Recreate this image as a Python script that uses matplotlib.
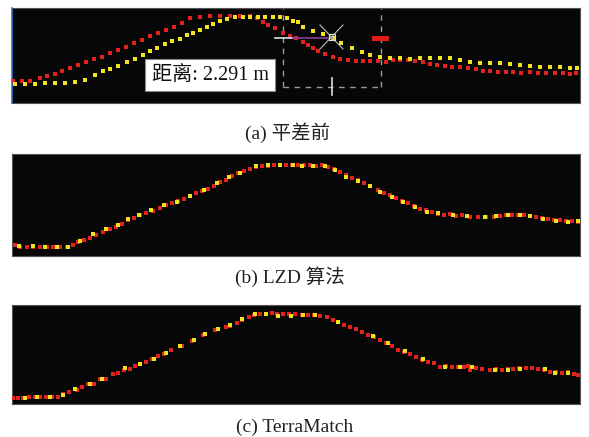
import matplotlib
matplotlib.use("Agg")
import matplotlib.pyplot as plt

# profile readings: distance along the section and height above panel floor
# (a) before adjustment
a_red_dist = [1, 10, 18, 28, 35, 43, 50, 58, 66, 74, 82, 90, 98, 106, 114, 122, 130, 138, 146, 154,
              162, 170, 178, 188, 198, 208, 218, 228, 238, 245, 251, 256, 263, 271, 278, 284, 291, 296, 301, 306,
              313, 321, 328, 336, 344, 351, 358, 366, 374, 381, 388, 396, 403, 411, 418, 425, 433, 440, 448, 456,
              464, 471, 478, 486, 494, 501, 509, 518, 526, 534, 543, 551, 558, 564]
a_red_elev = [22, 22, 22, 25, 27, 29, 32, 35, 38, 41, 44, 46, 50, 53, 56, 60, 63, 67, 70, 73,
              76, 80, 85, 86, 87, 87, 87, 87, 87, 85, 81, 78, 75, 70, 67, 65, 61, 58, 55, 52,
              49, 46, 44, 43, 42, 42, 42, 42, 41, 43, 43, 43, 42, 41, 39, 38, 37, 36, 36, 35,
              34, 32, 32, 31, 31, 31, 30, 31, 30, 30, 30, 30, 29, 30]
a_yel_dist = [3, 13, 23, 33, 43, 53, 63, 73, 83, 91, 98, 106, 115, 123, 131, 138, 145, 153, 160, 168,
              175, 181, 188, 195, 201, 208, 215, 223, 231, 238, 246, 253, 261, 268, 275, 281, 286, 291, 301, 311,
              321, 329, 340, 350, 358, 368, 378, 388, 398, 408, 418, 428, 438, 448, 458, 468, 478, 488, 498, 508,
              518, 528, 538, 548, 558, 565]
a_yel_elev = [19, 19, 19, 20, 20, 20, 21, 23, 28, 32, 34, 37, 41, 44, 48, 52, 55, 59, 62, 64,
              68, 70, 73, 76, 79, 82, 84, 86, 86, 86, 86, 86, 86, 86, 85, 82, 81, 76, 72, 69,
              65, 60, 55, 51, 48, 46, 45, 45, 44, 45, 45, 45, 45, 43, 41, 40, 40, 40, 39, 38,
              37, 36, 36, 36, 35, 35]

# (b) LZD
b_red_dist = [3, 8, 15, 21, 28, 35, 41, 48, 55, 61, 66, 72, 78, 84, 91, 98, 104, 110, 116, 122,
              128, 134, 141, 148, 154, 160, 166, 172, 178, 184, 190, 196, 202, 208, 214, 220, 226, 232, 238, 244,
              250, 256, 262, 268, 274, 280, 286, 292, 298, 304, 310, 316, 322, 328, 334, 340, 346, 352, 358, 366,
              372, 378, 384, 390, 396, 402, 408, 414, 420, 426, 432, 438, 444, 450, 458, 466, 474, 482, 488, 494,
              500, 506, 512, 518, 524, 530, 536, 542, 548, 554, 560, 566]
b_red_elev = [11, 9, 9, 9, 9, 9, 9, 9, 9, 11, 14, 16, 18, 21, 24, 27, 29, 32, 36, 38,
              41, 43, 45, 48, 51, 53, 55, 57, 60, 63, 65, 67, 70, 74, 76, 80, 83, 85, 87, 89,
              90, 90, 91, 91, 91, 91, 91, 91, 91, 90, 91, 89, 87, 84, 81, 78, 76, 73, 70, 66,
              63, 61, 58, 55, 53, 50, 47, 46, 44, 42, 41, 42, 40, 41, 39, 39, 39, 39, 40, 41,
              41, 41, 41, 40, 39, 38, 37, 36, 36, 35, 35, 34]
b_yel_dist = [7, 21, 33, 45, 56, 68, 81, 94, 106, 116, 127, 139, 152, 165, 178, 192, 205, 217, 228, 244,
              256, 268, 281, 290, 301, 313, 323, 334, 346, 358, 368, 380, 391, 403, 415, 426, 441, 455, 473, 484,
              496, 508, 518, 531, 544, 556, 566]
b_yel_elev = [10, 10, 9, 9, 9, 15, 22, 27, 31, 37, 41, 46, 51, 54, 60, 66, 73, 79, 83, 90,
              91, 91, 91, 90, 90, 90, 86, 79, 75, 70, 64, 59, 54, 49, 44, 43, 41, 40, 39, 40,
              41, 41, 40, 37, 35, 34, 35]

# (c) TerraMatch
c_red_dist = [1, 6, 11, 17, 23, 28, 34, 40, 46, 51, 57, 65, 70, 76, 82, 88, 94, 101, 106, 112,
              118, 123, 128, 134, 140, 146, 152, 159, 170, 180, 191, 203, 214, 218, 225, 230, 237, 242, 248, 254,
              260, 265, 271, 277, 283, 290, 296, 302, 308, 315, 321, 326, 332, 338, 344, 350, 356, 362, 368, 374,
              380, 386, 392, 398, 404, 410, 416, 422, 428, 434, 440, 446, 452, 456, 458, 464, 470, 478, 484, 490,
              496, 501, 507, 514, 520, 526, 532, 538, 544, 550, 556, 562, 566]
c_red_elev = [6, 6, 6, 7, 7, 7, 7, 7, 7, 10, 12, 14, 17, 20, 20, 25, 25, 30, 31, 34,
              35, 38, 40, 42, 45, 48, 50, 54, 58, 63, 69, 74, 77, 78, 81, 84, 87, 89, 90, 90,
              91, 90, 90, 90, 90, 89, 89, 89, 88, 87, 84, 82, 79, 77, 75, 72, 69, 67, 64, 61,
              58, 54, 52, 50, 47, 44, 42, 41, 37, 38, 37, 37, 37, 38, 34, 36, 35, 34, 35, 34,
              35, 35, 36, 36, 36, 35, 34, 32, 32, 31, 32, 30, 29]
c_yel_dist = [13, 25, 38, 51, 63, 78, 90, 113, 128, 142, 154, 168, 182, 193, 206, 218, 230, 243, 254, 266,
              279, 291, 303, 326, 361, 376, 393, 411, 433, 448, 460, 483, 496, 508, 533, 543, 556]
c_yel_elev = [6, 7, 7, 9, 15, 20, 25, 36, 40, 45, 51, 58, 64, 70, 75, 79, 85, 90, 90, 88,
              88, 89, 89, 82, 68, 61, 53, 45, 37, 37, 37, 34, 34, 35, 35, 31, 31]

captions = ["(a) 平差前", "(b) LZD 算法", "(c) TerraMatch"]
measure_text = "距离: 2.291 m"

RED = "#e3221e"
YEL = "#f2e41c"
BG = "#070707"
fonts = ["Liberation Serif", "Noto Sans CJK SC"]

fig = plt.figure(figsize=(5.89, 4.37), dpi=100)
fig.patch.set_facecolor("white")

# panel rectangles in figure fraction
boxes = [
    (0.0204, 0.7643, 0.9643, 0.2174),
    (0.0204, 0.4142, 0.9643, 0.2334),
    (0.0204, 0.0755, 0.9643, 0.2265),
]
ytops = [95, 102, 99]
cap_x = [0.488, 0.492, 0.5008]
cap_y = [0.6957, 0.3661, 0.0229]
series = [
    (a_red_dist, a_red_elev, a_yel_dist, a_yel_elev),
    (b_red_dist, b_red_elev, b_yel_dist, b_yel_elev),
    (c_red_dist, c_red_elev, c_yel_dist, c_yel_elev),
]

axes = []
for i, (box, top, s) in enumerate(zip(boxes, ytops, series)):
    ax = fig.add_axes(box)
    ax.set_facecolor(BG)
    ax.set_xlim(0, 568)
    ax.set_ylim(0, top)
    ax.set_xticks([])
    ax.set_yticks([])
    for sp in ax.spines.values():
        sp.set_color("#555555")
        sp.set_linewidth(0.8)
    rd, re, yd, ye = s
    if i == 0:
        ax.scatter(rd, re, marker="s", s=10, color=RED, linewidths=0, zorder=3)
        ax.scatter(yd, ye, marker="s", s=6, color=YEL, linewidths=0, zorder=3)
    else:
        ax.scatter(rd, re, marker="s", s=12, color=RED, linewidths=0, zorder=3)
        ax.scatter(yd, ye, marker="s", s=6, color=YEL, linewidths=0, zorder=4)
    fig.text(cap_x[i], cap_y[i], captions[i], ha="center", va="center",
             fontsize=14, family=fonts, color="#222222")
    axes.append(ax)

# measurement overlay on panel (a)
ax = axes[0]
ax.spines["left"].set_color("#2f6fd0")
ax.spines["left"].set_linewidth(1.2)
dash = dict(color="#9a9a9a", lw=1.0, ls=(0, (4, 4)), zorder=2)
ax.plot([271, 271], [16, 95], **dash)
ax.plot([369, 369], [16, 95], **dash)
ax.plot([271, 369], [16, 16], **dash)
ax.plot([320, 320], [8, 25], color="#dddddd", lw=1.2, zorder=5)
ax.plot([263, 281], [65, 65], color="#dddddd", lw=1.2, zorder=5)
ax.plot([281, 320], [65, 65], color="#8c3c9a", lw=1.2, zorder=5)
ax.plot([308, 331], [78, 54], color="#bbbbbb", lw=0.8, zorder=5)
ax.plot([331, 308], [78, 54], color="#bbbbbb", lw=0.8, zorder=5)
ax.scatter([320], [66], marker="s", s=22, facecolors="none",
           edgecolors="#dddddd", linewidths=0.8, zorder=6)
ax.fill_between([360, 377], 62, 67, color="#e01c1c", lw=0, zorder=5)
ax.text(198, 28, measure_text, ha="center", va="center", fontsize=14.5,
        family=fonts, color="#111111", zorder=7,
        bbox=dict(boxstyle="square,pad=0.3", facecolor="white",
                  edgecolor="#888888", linewidth=0.8))

fig.savefig("out.png", dpi=100, facecolor=fig.get_facecolor())
